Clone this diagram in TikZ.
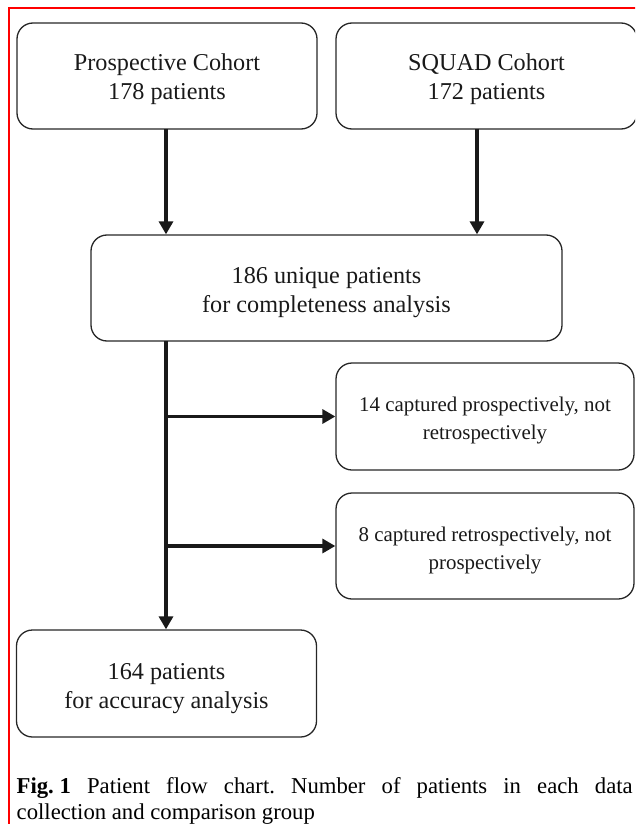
\documentclass[tikz,border=0pt]{standalone}
\usepackage{fontspec}
\setmainfont{Liberation Serif}
\usetikzlibrary{arrows.meta}
\newcommand{\topstrut}[1]{\rule{0pt}{#1}}
\begin{document}
\begin{tikzpicture}[x=1pt,y=-1pt,
  box/.style={draw=black!85, line width=1.3pt, rounded corners=16pt, align=center, inner sep=0pt, text=black!90, font=\fontsize{24.2}{29}\selectfont},
  sidebox/.style={box, font=\fontsize{20.9}{27.5}\selectfont},
  arr/.style={line width=3.2pt, draw=black!90, -{Triangle[length=13pt,width=14pt]}},
  frame/.style={draw=red, line width=2pt}
]
\useasboundingbox (0,0) rectangle (635,824);
\begin{scope}
\clip (0,0) rectangle (635,824);
\draw[frame] (9,830) -- (9,8) -- (640,8);

\node[box, minimum width=300pt, minimum height=106pt] (A) at (167,76) {\topstrut{24pt}Prospective Cohort\\178 patients};
\node[box, minimum width=301pt, minimum height=106pt] (B) at (486.5,76) {\topstrut{24pt}SQUAD Cohort\\172 patients};
\node[box, minimum width=471pt, minimum height=106pt] (C) at (326.5,288) {\topstrut{25pt}186 unique patients\\for completeness analysis};
\node[sidebox, minimum width=298pt, minimum height=107pt] (E) at (485,416.5) {\topstrut{23pt}14 captured prospectively, not\\retrospectively};
\node[sidebox, minimum width=298pt, minimum height=106pt] (F) at (485,546) {\topstrut{23pt}8 captured retrospectively, not\\prospectively};
\node[box, minimum width=300pt, minimum height=107pt] (D) at (166.5,683.5) {\topstrut{26pt}164 patients\\for accuracy analysis};

\coordinate (bA) at (166,129);
\coordinate (bB) at (477,129);
\coordinate (t0) at (166,341);
\coordinate (j1) at (166,416.5);
\coordinate (j2) at (166,546);

\draw[arr] (bA) -- (bA |- C.north);
\draw[arr] (bB) -- (bB |- C.north);
\draw[arr] (t0) -- (t0 |- D.north);
\draw[arr] (j1) -- (E.west);
\draw[arr] (j2) -- (F.west);

\node[anchor=base west, inner sep=0pt, text=black] (cap) at (16.5,793)
  {\parbox[t]{616pt}{\frenchspacing\fontsize{22.7}{26}\selectfont\mbox{\textbf{Fig. 1}} Patient flow chart. Number of patients in each data\linebreak collection and comparison group}};
\end{scope}
\end{tikzpicture}
\end{document}
